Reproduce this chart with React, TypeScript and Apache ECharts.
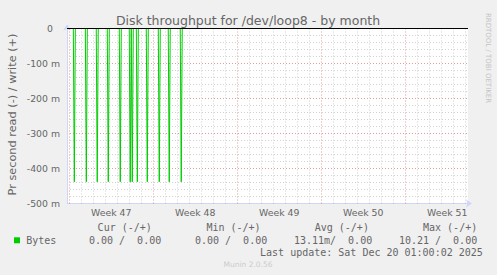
import React, { useEffect, useRef } from "react";
import * as echarts from "echarts";

// x values are days since Monday 17 Nov 2025 00:00 (start of week 47)
const weekLabels = ["Week 47", "Week 48", "Week 49", "Week 50", "Week 51"];
const weekLabelPos = [3.5, 10.5, 17.5, 24.5, 31.5];
const weekLines = [0, 7, 14, 21, 28];
const dayLines = [1, 2, 3, 4, 5, 6, 8, 9, 10, 11, 12, 13, 15, 16, 17, 18, 19, 20, 22, 23, 24, 25, 26, 27, 29, 30, 31, 32, 33];

// read spikes (milli-bytes per second, negative = read)
const spikeDays = [0.42, 1.42, 2.33, 3.25, 4.25, 5.08, 5.25, 5.67, 6.5, 7.5, 8.33, 9.33];
const spikeValues = [-438, -438, -438, -438, -438, -438, -438, -438, -438, -438, -438, -438];
const sampleStep = 1 / 12; // 2-hour samples

const yTicks = [0, -100, -200, -300, -400, -500];

const legendHeaders = ["Cur (-/+)", "Min (-/+)", "Avg (-/+)", "Max (-/+)"];
const legendValues = ["0.00 /  0.00", "0.00 /  0.00", "13.11m/  0.00", "10.21 /  0.00"];
const legendName = "Bytes";
const lastUpdate = "Last update: Sat Dec 20 01:00:02 2025";
const title = "Disk throughput for /dev/loop8 - by month";
const yName = "Pr second read (-) / write (+)";

const X_MIN = -0.19;
const X_MAX = X_MIN + 401 / 12;

const FONT = "DejaVu Sans";
const MONO = "DejaVu Sans Mono";
const FONT_COLOR = "#666666";

export default function App() {
  const ref = useRef<HTMLDivElement>(null);
  useEffect(() => {
    if (!ref.current) return;
    const chart = echarts.init(ref.current, undefined, { renderer: "svg" });

    const readData: number[][] = [[X_MIN, 0]];
    spikeDays.forEach((d, i) => {
      readData.push([d - sampleStep, 0]);
      readData.push([d, spikeValues[i]]);
      readData.push([d + sampleStep, 0]);
    });
    readData.push([X_MAX, 0]);

    const minorStyle = { color: "rgba(140,140,140,0.4)", width: 1, type: [1, 2] as any };
    const majorStyle = { color: "rgba(190,40,40,0.45)", width: 1, type: [1, 2] as any };

    const headerRight = [151.8, 260.6, 368.9, 477.2];
    const valueRight = [161.2, 267.2, 372.2, 477.2];

    const graphics: any[] = [
      {
        type: "text", x: 248, y: 20,
        style: { text: title, font: `12.5px ${FONT}`, fill: FONT_COLOR, align: "center", verticalAlign: "middle" },
      },
      {
        type: "text", x: 12, y: 114.5, rotation: Math.PI / 2,
        style: { text: yName, font: `11.3px ${FONT}`, fill: FONT_COLOR, align: "center", verticalAlign: "middle" },
      },
      {
        type: "text", x: 488, y: 58, rotation: -Math.PI / 2,
        style: { text: "RRDTOOL / TOBI OETIKER", font: `7px ${FONT}`, fill: "#c4c4c4", align: "center", verticalAlign: "middle" },
      },
      { type: "rect", shape: { x: 14, y: 237.3, width: 6, height: 6 }, style: { fill: "#00cc00" } },
      {
        type: "text", x: 26.2, y: 240,
        style: { text: legendName, font: `10px ${MONO}`, fill: FONT_COLOR, align: "left", verticalAlign: "middle" },
      },
      {
        type: "text", x: 482.8, y: 252,
        style: { text: lastUpdate, font: `10px ${MONO}`, fill: FONT_COLOR, align: "right", verticalAlign: "middle" },
      },
      {
        type: "text", x: 248, y: 264,
        style: { text: "Munin 2.0.56", font: `7.5px ${FONT}`, fill: "#cccccc", align: "center", verticalAlign: "middle" },
      },
    ];
    legendHeaders.forEach((h, i) => {
      graphics.push({
        type: "text", x: headerRight[i], y: 227.5,
        style: { text: h.replace(/ /g, "\u00a0"), font: `10px ${MONO}`, fill: FONT_COLOR, align: "right", verticalAlign: "middle" },
      });
    });
    legendValues.forEach((v, i) => {
      graphics.push({
        type: "text", x: valueRight[i], y: 240,
        style: { text: v.replace(/ /g, "\u00a0"), font: `10px ${MONO}`, fill: FONT_COLOR, align: "right", verticalAlign: "middle" },
      });
    });

    const option: any = {
      animation: false,
      backgroundColor: "#f0f0f0",
      grid: {
        left: 67, top: 28.5, width: 401, height: 175,
        show: true, backgroundColor: "#ffffff", borderWidth: 0, containLabel: false,
      },
      xAxis: {
        type: "value", min: X_MIN, max: X_MAX,
        axisLine: {
          show: true, onZero: false,
          lineStyle: { color: "#cfd6f8", width: 1 },
          symbol: ["none", "arrow"], symbolSize: [6, 6], symbolOffset: [0, 4],
        },
        axisTick: { show: false },
        splitLine: { show: false },
        axisLabel: {
          customValues: weekLabelPos,
          formatter: (v: number) => {
            const i = weekLabelPos.findIndex((p) => Math.abs(p - v) < 1e-6);
            return i >= 0 ? weekLabels[i] : "";
          },
          color: FONT_COLOR, fontFamily: FONT, fontSize: 9.33, margin: 4,
        },
      },
      yAxis: {
        type: "value", min: yTicks[yTicks.length - 1], max: yTicks[0], interval: 100,
        axisLine: {
          show: true, onZero: false,
          lineStyle: { color: "#cfd6f8", width: 1 },
          symbol: ["none", "arrow"], symbolSize: [6, 6], symbolOffset: [0, 4],
        },
        axisTick: { show: false },
        axisLabel: {
          formatter: (v: number) => (v === 0 ? "{z|0}" : `${v} m`),
          color: FONT_COLOR, fontFamily: FONT, fontSize: 9.33, margin: 7,
          rich: { z: { color: FONT_COLOR, fontFamily: FONT, fontSize: 9.33, padding: [0, 7, 0, 0] } },
        },
        splitLine: { show: true, lineStyle: majorStyle },
        minorTick: { show: false, splitNumber: 5 },
        minorSplitLine: { show: true, lineStyle: minorStyle },
      },
      graphic: graphics,
      series: [
        {
          type: "line", data: [[X_MIN, 0]], showSymbol: false, silent: true, z: 1,
          lineStyle: { opacity: 0 },
          markLine: {
            silent: true, symbol: ["none", "none"], label: { show: false }, animation: false,
            data: [
              ...dayLines.map((d) => ({ xAxis: d, lineStyle: minorStyle })),
              ...weekLines.map((d) => ({ xAxis: d, lineStyle: majorStyle })),
            ],
          },
        },
        {
          type: "line", name: legendName, data: readData, showSymbol: false, z: 3,
          lineStyle: { color: "#00cc00", width: 1 }, itemStyle: { color: "#00cc00" },
        },
        {
          type: "line", data: [[X_MIN, 0]], showSymbol: false, silent: true, z: 4,
          lineStyle: { opacity: 0 },
          markLine: {
            silent: true, symbol: ["none", "none"], label: { show: false }, animation: false,
            data: [{ yAxis: 0, lineStyle: { color: "#000000", width: 1, type: "solid" } }],
          },
        },
      ],
    };
    chart.setOption(option);
    return () => chart.dispose();
  }, []);
  return (
    <div
      ref={ref}
      style={{ position: "fixed", left: 0, top: 0, width: 497, height: 275 }}
    />
  );
}
